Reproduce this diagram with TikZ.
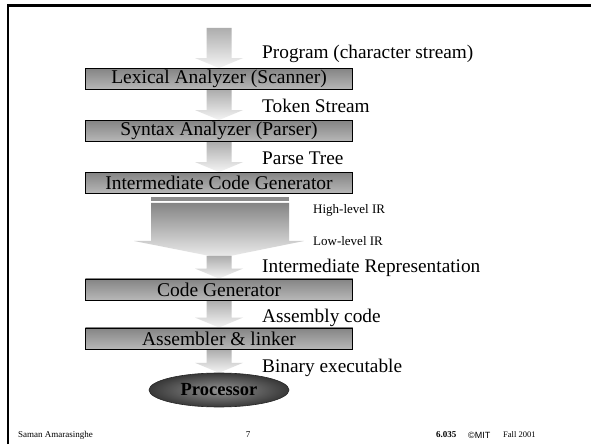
\documentclass[tikz,border=0pt]{standalone}
\usepackage{fontspec}
\setmainfont{Liberation Serif}
\newfontfamily\arialf{Liberation Sans}
\usetikzlibrary{calc,shapes.geometric}
\definecolor{arrtop}{gray}{0.68}
\definecolor{arrbot}{gray}{0.96}
\definecolor{bigtop}{gray}{0.52}
\definecolor{bigbot}{gray}{0.93}
\definecolor{boxtop}{gray}{0.52}
\definecolor{boxbot}{gray}{0.72}
\newcommand{\flowarrow}[2]{%
  \shade[top color=arrtop, bottom color=arrbot] let \p1=(#1), \p2=(#2) in
  (\x1-12.5pt,\y1) -- (\x1+12.5pt,\y1) -- (\x1+12.5pt,\y2+10pt) -- (\x1+24pt,\y2+10pt)
  -- (\x1,\y2) -- (\x1-24pt,\y2+10pt) -- (\x1-12.5pt,\y2+10pt) -- cycle;}
\begin{document}
\begin{tikzpicture}[x=1pt,y=1pt,
  stagebox/.style={draw=black, line width=0.9pt, top color=boxtop, bottom color=boxbot,
    minimum width=267pt, minimum height=21pt, inner sep=0pt, font=\fontsize{19.5}{19.5}\selectfont},
  lab/.style={anchor=west, inner sep=0pt, font=\fontsize{19.3}{19.3}\selectfont},
  smalllab/.style={anchor=west, inner sep=0pt, font=\fontsize{13}{13}\selectfont},
  foot/.style={inner sep=0pt, font=\fontsize{9}{9}\selectfont}]
\useasboundingbox (0,0) rectangle (591,444);
\fill[white] (0,0) rectangle (591,444);
% frame
\draw[line width=2.3pt] (8,0) -- (8,438.5) -- (591,438.5);

% coordinates for arrows
\coordinate (src) at (219,416);
\coordinate (bigtip) at (220,186);
\coordinate (bigout) at (219,188);

% box placeholders for anchors
\path (219,365) node[stagebox] (lex) {};
\path (219,313) node[stagebox] (syn) {};
\path (219,261) node[stagebox] (icg) {};
\path (219,154.5) node[stagebox] (cg) {};
\path (219,105.5) node[stagebox] (asm) {};
\path (219,54) node[ellipse, minimum width=140pt, minimum height=34pt, inner sep=0pt] (proc) {};

% arrows
\flowarrow{src}{lex.north}
\flowarrow{lex.south}{syn.north}
\flowarrow{syn.south}{icg.north}
% bar and big arrow
\fill[black!45] (151,243) rectangle (289,247);
\shade[top color=bigtop, bottom color=bigbot]
  (151,241) -- (289,241) -- (289,203) -- (304,203) -- (bigtip) -- (134,203) -- (151,203) -- cycle;
\flowarrow{bigout}{cg.north}
\flowarrow{cg.south}{asm.north}
\flowarrow{asm.south}{proc.north}

% boxes drawn
\node[stagebox] at (lex) {Lexical Analyzer (Scanner)};
\node[stagebox] at (syn) {Syntax Analyzer (Parser)};
\node[stagebox] at (icg) {Intermediate Code Generator};
\node[stagebox] at (cg) {Code Generator};
\node[stagebox] at (asm) {Assembler \& linker};
\node[ellipse, draw=black!85, line width=0.6pt, inner color=black!42, outer color=black!78,
  minimum width=140pt, minimum height=34pt, inner sep=0pt,
  font=\fontsize{18.5}{18.5}\selectfont\bfseries] at (proc) {Processor};

% labels
\node[lab] (l1) at (262,390) {Program (character stream)};
\node[lab] (l2) at (262,338) {Token Stream};
\node[lab] (l3) at (262,286) {Parse Tree};
\node[smalllab] (l4) at (313,234) {High-level IR};
\node[smalllab] (l5) at (313,203) {Low-level IR};
\node[lab] (l6) at (262,176) {Intermediate Representation};
\node[lab] (l7) at (262,126) {Assembly code};
\node[lab] (l8) at (262,76) {Binary executable};

% footer
\node[foot, anchor=west] (f1) at (18,9) {Saman Amarasinghe};
\node[foot] (f2) at (248,9) {7};
\node[foot, anchor=west, font=\fontsize{9}{9}\selectfont\bfseries] (f3) at (436,9) {6.035};
\node[foot, anchor=west, font=\fontsize{9}{9}\arialf] (f4) at (468,9) {©MIT};
\node[foot, anchor=west, font=\fontsize{8.5}{8.5}\selectfont] (f5) at (503,9) {Fall 2001};
\end{tikzpicture}
\end{document}
